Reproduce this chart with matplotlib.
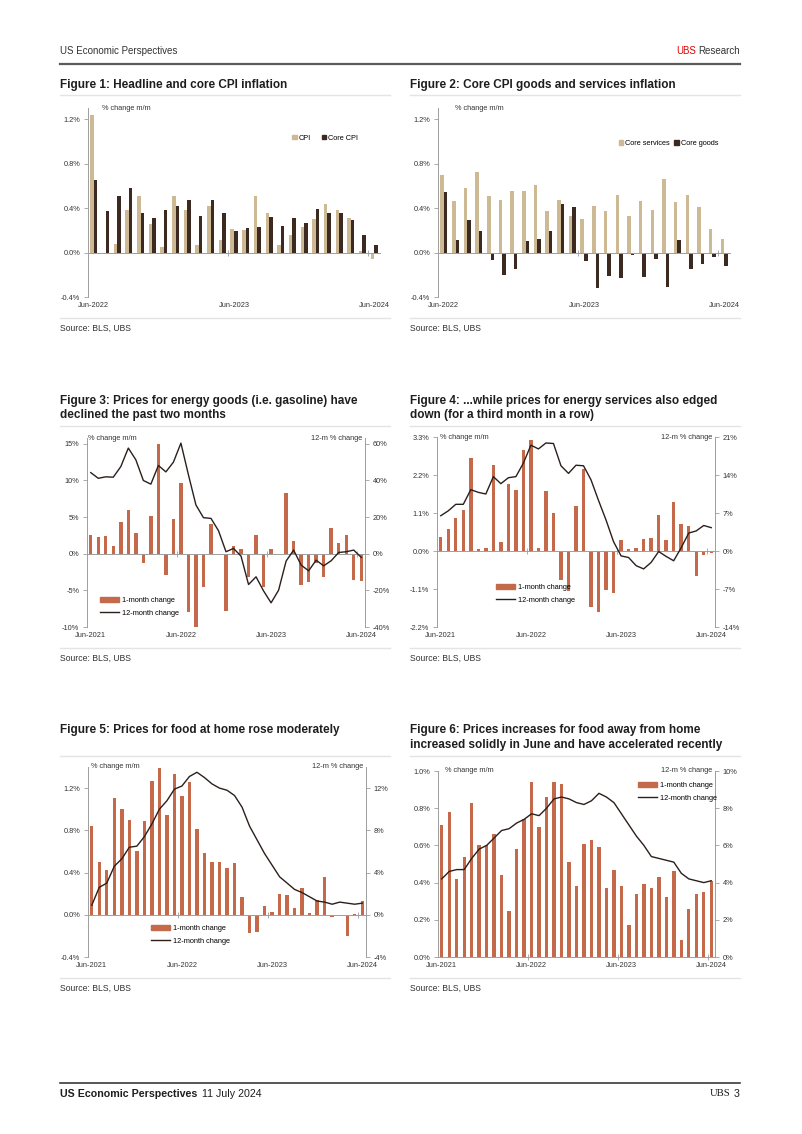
import matplotlib
matplotlib.use('Agg')
import matplotlib.pyplot as plt
import matplotlib.transforms as mtransforms
from matplotlib.patches import Patch
from matplotlib.lines import Line2D
import numpy as np

plt.rcParams['font.family'] = ['Liberation Sans', 'DejaVu Sans']
plt.rcParams['axes.unicode_minus'] = False

# ---------------- data ----------------
# Figures 1-2: Jun-2022 .. Jun-2024 (25 months)
labels_2y = ['Jun-2022', 'Jun-2023', 'Jun-2024']
cpi = [1.24, 0.00, 0.08, 0.38, 0.51, 0.26, 0.05, 0.51, 0.38, 0.07, 0.42, 0.11, 0.21,
       0.20, 0.51, 0.36, 0.07, 0.16, 0.23, 0.30, 0.44, 0.38, 0.31, 0.01, -0.06]
core_cpi = [0.65, 0.37, 0.51, 0.58, 0.36, 0.31, 0.38, 0.42, 0.47, 0.33, 0.47, 0.36, 0.19,
            0.22, 0.23, 0.32, 0.24, 0.31, 0.27, 0.39, 0.36, 0.36, 0.29, 0.16, 0.07]
core_services = [0.70, 0.46, 0.58, 0.72, 0.51, 0.47, 0.55, 0.55, 0.61, 0.37, 0.47, 0.33, 0.30,
                 0.42, 0.37, 0.52, 0.33, 0.46, 0.38, 0.66, 0.45, 0.52, 0.41, 0.21, 0.12]
core_goods = [0.54, 0.11, 0.29, 0.19, -0.07, -0.20, -0.15, 0.10, 0.12, 0.19, 0.44, 0.41, -0.08,
              -0.32, -0.21, -0.23, -0.02, -0.22, -0.06, -0.31, 0.11, -0.15, -0.10, -0.04, -0.12]

# Figures 3-6: Jun-2021 .. Jun-2024 (37 months)
labels_3y = ['Jun-2021', 'Jun-2022', 'Jun-2023', 'Jun-2024']
energy_goods_m = [2.6, 2.3, 2.4, 1.0, 4.3, 6.0, 2.9, -1.3, 5.1, 15.0, -2.9, 4.7, 9.7,
                  -8.0, -10.0, -4.6, 4.1, -0.1, -7.8, 1.1, 0.6, -3.2, 2.5, -4.6, 0.6,
                  -0.1, 8.3, 1.8, -4.3, -3.8, -1.3, -3.2, 3.5, 1.4, 2.6, -3.6, -3.7]
energy_goods_12 = [44.3, 41.2, 42.0, 41.8, 47.6, 57.7, 51.3, 40.0, 38.0, 48.2, 44.7, 50.0, 60.4,
                   43.1, 26.6, 19.7, 19.3, 12.6, 1.1, 2.9, -1.3, -16.8, -12.6, -20.3, -26.8,
                   -19.9, -4.0, 2.0, -6.2, -9.3, -3.5, -6.6, -3.8, 0.7, 1.1, 2.0, -2.0]
energy_serv_m = [0.40, 0.65, 0.95, 1.20, 2.70, 0.07, 0.08, 2.48, 0.25, 1.95, 1.76, 2.93, 3.22,
                 0.10, 1.73, 1.10, -0.85, -1.15, 1.31, 2.38, -1.62, -1.76, -1.14, -1.22, 0.32,
                 0.05, 0.10, 0.34, 0.38, 1.05, 0.33, 1.42, 0.77, 0.71, -0.73, -0.13, -0.05]
energy_serv_12 = [6.5, 7.4, 8.6, 8.6, 11.3, 10.8, 10.5, 13.7, 12.4, 13.5, 13.7, 16.2, 19.5,
                  18.8, 19.9, 19.8, 15.7, 14.3, 15.8, 15.7, 13.1, 9.3, 5.7, 1.7, -0.9,
                  -1.2, -2.7, -3.3, -2.1, -0.1, -1.0, -1.8, 0.6, 3.3, 3.7, 4.7, 4.3]
food_home_m = [0.84, 0.50, 0.42, 1.11, 1.00, 0.90, 0.60, 0.89, 1.27, 1.39, 0.95, 1.33, 1.13,
               1.26, 0.81, 0.59, 0.50, 0.50, 0.44, 0.49, 0.17, -0.17, -0.16, 0.08, 0.03,
               0.20, 0.19, 0.06, 0.25, 0.02, 0.14, 0.36, -0.02, 0.00, -0.20, 0.01, 0.13]
food_home_12 = [0.9, 2.6, 3.0, 4.6, 5.3, 6.4, 6.5, 7.4, 8.6, 10.0, 10.8, 11.9, 12.2,
                13.1, 13.5, 13.0, 12.4, 12.0, 11.8, 11.3, 10.2, 8.4, 7.1, 5.8, 4.7,
                3.6, 3.0, 2.4, 2.1, 1.7, 1.3, 1.2, 1.0, 1.2, 1.1, 1.0, 1.1]
food_away_m = [0.71, 0.78, 0.42, 0.54, 0.83, 0.60, 0.60, 0.66, 0.44, 0.25, 0.58, 0.74, 0.94,
               0.70, 0.86, 0.94, 0.93, 0.51, 0.38, 0.61, 0.63, 0.59, 0.37, 0.47, 0.38,
               0.17, 0.34, 0.39, 0.37, 0.43, 0.32, 0.46, 0.09, 0.26, 0.34, 0.35, 0.41]
food_away_12 = [4.2, 4.6, 4.7, 4.7, 5.3, 5.8, 6.0, 6.4, 6.8, 6.9, 7.2, 7.4, 7.7,
                7.6, 8.0, 8.5, 8.6, 8.5, 8.3, 8.2, 8.4, 8.8, 8.6, 8.3, 7.7,
                7.1, 6.5, 6.0, 5.4, 5.3, 5.2, 5.1, 4.5, 4.2, 4.1, 4.0, 4.1]

# ---------------- style ----------------
W, H = 802, 1134
fig = plt.figure(figsize=(W / 100, H / 100), dpi=100)
fig.patch.set_facecolor('white')

GRAY = '#9d9d9d'
TAN = '#cdb994'
DARK = '#3c2a21'
RUST = '#c4694a'
LINEC = '#2b1f1c'
TXT = '#1e1e1e'
LBL = '#333333'
TICK_FS = 5.3
TITLE_FS = 8.5


def X(px):
    return px / W


def Y(py):
    return 1 - py / H


def add_ax(l, t, r, b):
    return fig.add_axes([l / W, 1 - b / H, (r - l) / W, (b - t) / H])


def style_left(ax, ylim, ticks, ticklabels, n, xlabels):
    ax.set_xlim(-0.5, n - 0.5)
    ax.set_ylim(*ylim)
    ax.set_yticks(ticks)
    ax.set_yticklabels(ticklabels)
    ax.tick_params(axis='y', direction='out', length=3, width=0.6, color=GRAY,
                   labelsize=TICK_FS, labelcolor=LBL, pad=2.5)
    for s in ['top', 'right']:
        ax.spines[s].set_visible(False)
    ax.spines['left'].set_color(GRAY)
    ax.spines['left'].set_linewidth(0.7)
    ax.spines['bottom'].set_position(('data', 0))
    ax.spines['bottom'].set_color(GRAY)
    ax.spines['bottom'].set_linewidth(0.7)
    ax.set_xticks(np.arange(11.5, n - 0.5, 12))
    ax.set_xticklabels([])
    ax.tick_params(axis='x', direction='inout', length=4, width=0.6, color=GRAY)
    trans = mtransforms.blended_transform_factory(ax.transData, ax.transAxes)
    for k, lab in enumerate(xlabels):
        ax.text(12 * k, -0.045, lab, transform=trans, ha='center', va='center',
                fontsize=TICK_FS, color=LBL)
    ax.set_facecolor('none')


def style_right(ax2, ylim, ticks, ticklabels):
    ax2.set_ylim(*ylim)
    ax2.set_yticks(ticks)
    ax2.set_yticklabels(ticklabels)
    ax2.tick_params(axis='y', direction='out', length=3, width=0.6, color=GRAY,
                    labelsize=TICK_FS, labelcolor=LBL, pad=2.5)
    for s in ['top', 'left', 'bottom']:
        ax2.spines[s].set_visible(False)
    ax2.spines['right'].set_color(GRAY)
    ax2.spines['right'].set_linewidth(0.7)


# ---------------- page text ----------------
renderer = fig.canvas.get_renderer()

fig.text(X(60), Y(51), 'US Economic Perspectives', fontsize=7.0, color=LBL,
         ha='left', va='center')
t_res = fig.text(X(740), Y(51), 'Research', fontsize=7.0, color=LBL, ha='right', va='center')
bb = t_res.get_window_extent(renderer)
fig.text(bb.x0 / W - 2.5 / W, Y(51), 'UBS', fontsize=7.0, color='#e60000', ha='right', va='center')
fig.add_artist(Line2D([X(60), X(740)], [Y(64), Y(64)], color='#5a5a5a', lw=1.6))

titles = [
    (60, [85], ['Figure 1: Headline and core CPI inflation']),
    (410, [85], ['Figure 2: Core CPI goods and services inflation']),
    (60, [401, 415], ['Figure 3: Prices for energy goods (i.e. gasoline) have',
                      'declined the past two months']),
    (410, [401, 415], ['Figure 4: ...while prices for energy services also edged',
                       'down (for a third month in a row)']),
    (60, [730], ['Figure 5: Prices for food at home rose moderately']),
    (410, [730, 745], ['Figure 6: Prices increases for food away from home',
                       'increased solidly in June and have accelerated recently']),
]
for x, ys, lines in titles:
    for y, t in zip(ys, lines):
        fig.text(X(x), Y(y), t, fontsize=TITLE_FS, fontweight='bold', color=TXT,
                 ha='left', va='center')

for ysep in [95, 426, 756]:
    for x0, x1 in [(60, 390), (410, 740)]:
        fig.add_artist(Line2D([X(x0), X(x1)], [Y(ysep), Y(ysep)], color='#e4e4e4', lw=1.0))
for ysrc in [318, 648, 978]:
    for x0, x1 in [(60, 390), (410, 740)]:
        fig.add_artist(Line2D([X(x0), X(x1)], [Y(ysrc), Y(ysrc)], color='#e4e4e4', lw=1.0))
        fig.text(X(x0), Y(ysrc + 10.5), 'Source: BLS, UBS', fontsize=6.2, color=LBL,
                 ha='left', va='center')

# footer
fig.add_artist(Line2D([X(60), X(740)], [Y(1083), Y(1083)], color='#3a3a3a', lw=1.2))
t_f = fig.text(X(60), Y(1094), 'US Economic Perspectives', fontsize=7.7, fontweight='bold',
               color=TXT, ha='left', va='center')
bbf = t_f.get_window_extent(renderer)
fig.text(bbf.x1 / W + 5 / W, Y(1094), '11 July 2024', fontsize=7.7, color=TXT, ha='left', va='center')
fig.text(X(740), Y(1094), '3', fontsize=7.7, color=TXT, ha='right', va='center')
fig.text(X(731), Y(1094), 'UBS', fontsize=7.7, color=TXT, ha='right', va='center',
         family=['Liberation Serif', 'DejaVu Serif'])

# ---------------- Figure 1 ----------------
n2 = len(cpi)
x2 = np.arange(n2)
lab_pct4 = ['-0.4%', '0.0%', '0.4%', '0.8%', '1.2%']
ax1 = add_ax(88, 108, 380, 297)
style_left(ax1, (-0.4, 1.3), [-0.4, 0.0, 0.4, 0.8, 1.2], lab_pct4, n2, labels_2y)
ax1.bar(x2 - 0.15, cpi, width=0.3, color=TAN, zorder=2)
ax1.bar(x2 + 0.15, core_cpi, width=0.3, color=DARK, zorder=2)
ax1.text(0.048, 1.0, '% change m/m', transform=ax1.transAxes, fontsize=TICK_FS, color=LBL,
         ha='left', va='center')
ax1.legend(handles=[Patch(color=TAN, label='CPI'), Patch(color=DARK, label='Core CPI')],
           loc='center left', bbox_to_anchor=(0.69, 0.84), ncol=2, frameon=False,
           fontsize=TICK_FS, handlelength=0.6, handleheight=0.6, handletextpad=0.3,
           columnspacing=1.4, borderaxespad=0)

# ---------------- Figure 2 ----------------
ax2 = add_ax(438, 108, 730, 297)
style_left(ax2, (-0.4, 1.3), [-0.4, 0.0, 0.4, 0.8, 1.2], lab_pct4, n2, labels_2y)
ax2.bar(x2 - 0.15, core_services, width=0.3, color=TAN, zorder=2)
ax2.bar(x2 + 0.15, core_goods, width=0.3, color=DARK, zorder=2)
ax2.text(0.058, 1.0, '% change m/m', transform=ax2.transAxes, fontsize=TICK_FS, color=LBL,
         ha='left', va='center')
ax2.legend(handles=[Patch(color=TAN, label='Core services'), Patch(color=DARK, label='Core goods')],
           loc='center left', bbox_to_anchor=(0.61, 0.81), ncol=2, frameon=False,
           fontsize=TICK_FS, handlelength=0.6, handleheight=0.6, handletextpad=0.25,
           columnspacing=0.6, borderaxespad=0)


# ---------------- Figures 3-6 ----------------
def combo(l, t, r, b, m, y12, ylim, ticks, tlabels, ylim2, ticks2, tlabels2,
          leg_anchor, unit_left_x):
    n = len(m)
    x = np.arange(n)
    ax = add_ax(l, t, r, b)
    style_left(ax, ylim, ticks, tlabels, n, labels_3y)
    ax.bar(x, m, width=0.45, color=RUST, zorder=2)
    axr = ax.twinx()
    style_right(axr, ylim2, ticks2, tlabels2)
    axr.plot(x, y12, color=LINEC, lw=1.0, zorder=3)
    ax.text(unit_left_x, 1.0, '% change m/m', transform=ax.transAxes, fontsize=TICK_FS,
            color=LBL, ha='left', va='center')
    ax.text(0.99, 1.0, '12-m % change', transform=ax.transAxes, fontsize=TICK_FS,
            color=LBL, ha='right', va='center')
    h = [Patch(color=RUST, label='1-month change'),
         Line2D([], [], color=LINEC, lw=1.0, label='12-month change')]
    axr.legend(handles=h, loc='center left', bbox_to_anchor=leg_anchor, frameon=False,
               fontsize=TICK_FS, handlelength=2.6, handleheight=0.6, handletextpad=0.4,
               labelspacing=0.75, borderaxespad=0)
    return ax, axr


combo(87, 438, 365, 627, energy_goods_m, energy_goods_12,
      (-10, 15.8), [-10, -5, 0, 5, 10, 15], ['-10%', '-5%', '0%', '5%', '10%', '15%'],
      (-40, 63.2), [-40, -20, 0, 20, 40, 60], ['-40%', '-20%', '0%', '20%', '40%', '60%'],
      (0.035, 0.106), 0.005)

combo(437, 437, 715, 627, energy_serv_m, energy_serv_12,
      (-2.2, 3.3), [-2.2, -1.1, 0.0, 1.1, 2.2, 3.3], ['-2.2%', '-1.1%', '0.0%', '1.1%', '2.2%', '3.3%'],
      (-14, 21), [-14, -7, 0, 7, 14, 21], ['-14%', '-7%', '0%', '7%', '14%', '21%'],
      (0.2, 0.174), 0.012)

combo(88, 767, 366, 957, food_home_m, food_home_12,
      (-0.4, 1.4), [-0.4, 0.0, 0.4, 0.8, 1.2], lab_pct4,
      (-4, 14), [-4, 0, 4, 8, 12], ['-4%', '0%', '4%', '8%', '12%'],
      (0.215, 0.116), 0.012)

combo(438, 771, 715, 957, food_away_m, food_away_12,
      (0, 1.0), [0.0, 0.2, 0.4, 0.6, 0.8, 1.0], ['0.0%', '0.2%', '0.4%', '0.6%', '0.8%', '1.0%'],
      (0, 10), [0, 2, 4, 6, 8, 10], ['0%', '2%', '4%', '6%', '8%', '10%'],
      (0.71, 0.887), 0.025)

fig.savefig('out.png', dpi=100, facecolor='white')
